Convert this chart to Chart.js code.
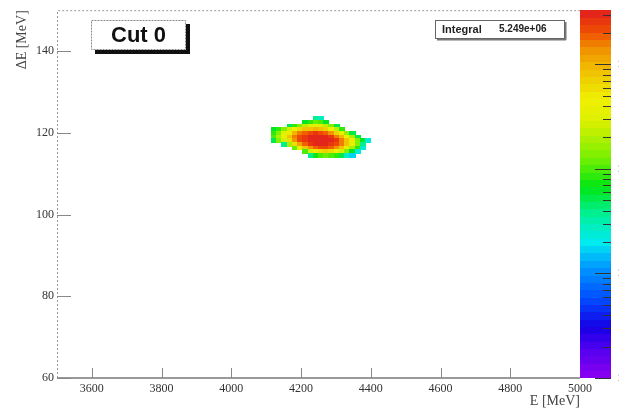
<!DOCTYPE html>
<html>
<head>
<meta charset="utf-8">
<script src="https://cdn.jsdelivr.net/npm/chart.js@4.4.1/dist/chart.umd.min.js"></script>
<style>
  html, body { margin: 0; padding: 0; background: #fff; }
  canvas { display: block; }
</style>
</head>
<body>
<canvas id="histo" width="619" height="412"></canvas>
<script>
// binning of the 2D histogram (100 x 100 bins)
const xRange = [3500, 5000];
const yRange = [60, 150];
const nBinsX = 100;
const nBinsY = 100;

// axis ticks
const xTicks = [3600, 3800, 4000, 4200, 4400, 4600, 4800, 5000];
const yTicks = [60, 80, 100, 120, 140];
const zTicks = [1, 10, 100, 1000];
const zRange = [1, 3300];

// filled region: x bins 41..60, one array per y bin
const firstXBin = 41;
const yBinIndex = [70, 69, 68, 67, 66, 65, 64, 63, 62, 61, 60];
const counts70 = [0, 0, 0, 0, 0, 0, 0, 0, 40, 30, 0, 0, 0, 0, 0, 0, 0, 0, 0, 0];
const counts69 = [0, 0, 0, 0, 0, 0, 60, 90, 110, 100, 60, 0, 0, 0, 0, 0, 0, 0, 0, 0];
const counts68 = [0, 0, 0, 50, 90, 150, 220, 300, 320, 300, 230, 130, 50, 0, 0, 0, 0, 0, 0, 0];
const counts67 = [60, 90, 150, 250, 420, 600, 800, 900, 950, 900, 700, 450, 230, 90, 0, 0, 0, 0, 0, 0];
const counts66 = [90, 150, 300, 550, 1000, 1500, 2000, 2300, 2400, 2300, 1900, 1300, 750, 380, 160, 50, 0, 0, 0, 0];
const counts65 = [100, 180, 380, 800, 1500, 2300, 2800, 3000, 3100, 3100, 2900, 2500, 1700, 1000, 450, 180, 50, 0, 0, 0];
const counts64 = [50, 130, 280, 650, 1300, 2100, 2800, 3100, 3200, 3200, 3100, 2900, 2400, 1600, 850, 380, 150, 60, 25, 0];
const counts63 = [0, 0, 40, 200, 600, 1200, 2000, 2600, 2900, 3000, 2900, 2700, 2200, 1500, 800, 350, 130, 40, 0, 0];
const counts62 = [0, 0, 0, 0, 120, 350, 800, 1400, 1900, 2100, 2100, 1800, 1300, 800, 400, 180, 80, 25, 0, 0];
const counts61 = [0, 0, 0, 0, 0, 0, 100, 250, 500, 650, 700, 600, 420, 250, 130, 60, 25, 0, 0, 0];
const counts60 = [0, 0, 0, 0, 0, 0, 0, 40, 70, 100, 110, 100, 80, 50, 30, 18, 0, 0, 0, 0];
const countRows = [counts70, counts69, counts68, counts67, counts66, counts65,
                   counts64, counts63, counts62, counts61, counts60];

// rainbow palette, violet (low) to red (high)
const paletteStops = [
    [0.00, [140, 0, 240]],
    [0.07, [90, 0, 240]],
    [0.14, [20, 0, 230]],
    [0.22, [0, 80, 255]],
    [0.30, [0, 150, 255]],
    [0.37, [0, 235, 240]],
    [0.44, [0, 240, 160]],
    [0.52, [0, 230, 20]],
    [0.60, [120, 240, 0]],
    [0.70, [220, 240, 0]],
    [0.76, [240, 240, 0]],
    [0.84, [240, 190, 0]],
    [0.90, [240, 140, 0]],
    [0.94, [240, 80, 0]],
    [1.00, [224, 30, 30]]
];

function stopColor(f) {
    for (let i = 1; i < paletteStops.length; i++) {
        const [f1, c1] = paletteStops[i];
        const [f0, c0] = paletteStops[i - 1];
        if (f <= f1) {
            const t = (f - f0) / (f1 - f0);
            const c = c0.map((v, n) => Math.round(v + (c1[n] - v) * t));
            return 'rgb(' + c.join(',') + ')';
        }
    }
    return 'rgb(224,30,30)';
}

const nColors = 50;
const palette = [];
for (let i = 0; i < nColors; i++) palette.push(stopColor((i + 0.5) / nColors));

// one point per filled bin
const dxBin = (xRange[1] - xRange[0]) / nBinsX;
const dyBin = (yRange[1] - yRange[0]) / nBinsY;
const cells = [];
countRows.forEach((row, r) => {
    row.forEach((v, c) => {
        if (v > 0) {
            cells.push({
                x: xRange[0] + (firstXBin + c + 0.5) * dxBin,
                y: yRange[0] + (yBinIndex[r] + 0.5) * dyBin,
                v: v
            });
        }
    });
});

function colorFor(z, v) {
    const f = (z.bottom - z.getPixelForValue(v)) / (z.bottom - z.top);
    const idx = Math.max(0, Math.min(nColors - 1, Math.floor(f * nColors)));
    return palette[idx];
}

const colzPlugin = {
    id: 'colz',
    beforeDatasetsDraw(chart) {
        const { ctx, chartArea: a, scales: { x, y, z } } = chart;
        ctx.save();
        ctx.beginPath();
        ctx.rect(a.left, a.top, a.width, a.height);
        ctx.clip();
        chart.data.datasets[0].data.forEach(p => {
            const x0 = Math.floor(x.getPixelForValue(p.x - dxBin / 2));
            const x1 = Math.ceil(x.getPixelForValue(p.x + dxBin / 2));
            const y0 = Math.floor(y.getPixelForValue(p.y + dyBin / 2));
            const y1 = Math.ceil(y.getPixelForValue(p.y - dyBin / 2));
            ctx.fillStyle = colorFor(z, p.v);
            ctx.fillRect(x0, y0, x1 - x0, y1 - y0);
        });
        ctx.restore();
    },
    afterDraw(chart) {
        const { ctx, chartArea: a, scales: { x, y, z } } = chart;
        ctx.save();

        // frame
        ctx.strokeStyle = '#999';
        ctx.lineWidth = 1;
        ctx.setLineDash([2, 2]);
        ctx.beginPath();
        ctx.moveTo(a.left + 0.5, a.bottom);
        ctx.lineTo(a.left + 0.5, a.top + 0.5);
        ctx.lineTo(a.right, a.top + 0.5);
        ctx.stroke();
        ctx.setLineDash([]);
        ctx.lineWidth = 2;
        ctx.beginPath();
        ctx.moveTo(a.left, a.bottom);
        ctx.lineTo(a.right, a.bottom);
        ctx.stroke();

        // ticks pointing into the frame
        ctx.lineWidth = 1;
        ctx.strokeStyle = '#888';
        ctx.beginPath();
        xTicks.forEach(v => {
            const px = Math.round(x.getPixelForValue(v)) + 0.5;
            ctx.moveTo(px, a.bottom);
            ctx.lineTo(px, a.bottom - 10);
        });
        yTicks.forEach(v => {
            const py = Math.round(y.getPixelForValue(v)) + 0.5;
            ctx.moveTo(a.left, py);
            ctx.lineTo(a.left + 14, py);
        });
        ctx.stroke();

        // colour palette
        const pl = a.right, pw = 31, ph = a.bottom - a.top;
        for (let i = 0; i < nColors; i++) {
            const yb = a.bottom - i * ph / nColors;
            const yt = a.bottom - (i + 1) * ph / nColors;
            ctx.fillStyle = palette[i];
            ctx.fillRect(pl, Math.floor(yt), pw, Math.ceil(yb) - Math.floor(yt));
        }
        ctx.strokeStyle = '#333';
        ctx.beginPath();
        zTicks.forEach(d => {
            for (let m = 1; m <= 9; m++) {
                const v = d * m;
                if (v > zRange[1]) break;
                const py = Math.round(z.getPixelForValue(v)) + 0.5;
                ctx.moveTo(pl + pw, py);
                ctx.lineTo(pl + pw - (m === 1 ? 16 : 8), py);
            }
        });
        ctx.stroke();
        ctx.fillStyle = '#444';
        ctx.font = '11px "Liberation Serif"';
        ctx.textBaseline = 'middle';
        ctx.textAlign = 'left';
        zTicks.forEach(v => {
            ctx.fillText(String(v), pl + pw + 6, z.getPixelForValue(v));
        });

        // "Cut 0" label box with shadow
        ctx.fillStyle = '#111';
        ctx.fillRect(95, 50, 95, 4);
        ctx.fillRect(186, 24, 4, 30);
        ctx.fillStyle = '#fff';
        ctx.fillRect(91, 20, 95, 30);
        ctx.strokeStyle = '#888';
        ctx.setLineDash([2, 1]);
        ctx.strokeRect(91.5, 20.5, 94, 29);
        ctx.setLineDash([]);
        ctx.fillStyle = '#111';
        ctx.font = 'bold 22px "Liberation Sans"';
        ctx.textAlign = 'center';
        ctx.fillText('Cut 0', 138.5, 36);

        // statistics box
        ctx.fillStyle = '#777';
        ctx.fillRect(437, 39, 129, 1.5);
        ctx.fillRect(565, 22, 1.5, 18);
        ctx.fillStyle = '#fff';
        ctx.fillRect(435, 20, 130, 19);
        ctx.strokeStyle = '#666';
        ctx.strokeRect(435.5, 20.5, 129, 18);
        ctx.fillStyle = '#222';
        ctx.textAlign = 'left';
        ctx.font = 'bold 11px "Liberation Sans"';
        ctx.fillText('Integral', 442, 29.5);
        ctx.font = 'bold 10px "Liberation Sans"';
        ctx.fillText('5.249e+06', 499, 29.5);

        ctx.restore();
    }
};

const ctx = document.getElementById('histo').getContext('2d');

new Chart(ctx, {
    type: 'scatter',
    data: {
        datasets: [{
            data: cells,
            pointRadius: 0,
            pointHoverRadius: 0
        }]
    },
    options: {
        responsive: false,
        animation: false,
        events: [],
        layout: { padding: { top: 7, right: 39, left: 0, bottom: 0 } },
        plugins: {
            legend: { display: false },
            tooltip: { enabled: false }
        },
        scales: {
            x: {
                type: 'linear',
                min: xRange[0],
                max: xRange[1],
                afterFit(s) { s.height = 34; },
                afterBuildTicks(s) { s.ticks = xTicks.map(v => ({ value: v })); },
                grid: { display: false, drawTicks: false },
                border: { display: false },
                ticks: {
                    color: '#333',
                    font: { family: 'Liberation Serif', size: 12 },
                    maxRotation: 0,
                    padding: 4,
                    callback: v => String(v)
                },
                title: {
                    display: true,
                    text: 'E [MeV]',
                    align: 'end',
                    color: '#444',
                    font: { family: 'Liberation Serif', size: 14 },
                    padding: { top: 0, bottom: 2 }
                }
            },
            y: {
                type: 'linear',
                min: yRange[0],
                max: yRange[1],
                afterFit(s) { s.width = 57; },
                afterBuildTicks(s) { s.ticks = yTicks.map(v => ({ value: v })); },
                grid: { display: false, drawTicks: false },
                border: { display: false },
                ticks: {
                    color: '#333',
                    font: { family: 'Liberation Serif', size: 12 },
                    padding: 3,
                    callback: v => String(v)
                },
                title: {
                    display: true,
                    text: 'ΔE [MeV]',
                    align: 'end',
                    color: '#444',
                    font: { family: 'Liberation Serif', size: 14 },
                    padding: { top: 14, bottom: 0 }
                }
            },
            z: {
                type: 'logarithmic',
                position: 'right',
                display: false,
                min: zRange[0],
                max: zRange[1]
            }
        }
    },
    plugins: [colzPlugin]
});
</script>
</body>
</html>
